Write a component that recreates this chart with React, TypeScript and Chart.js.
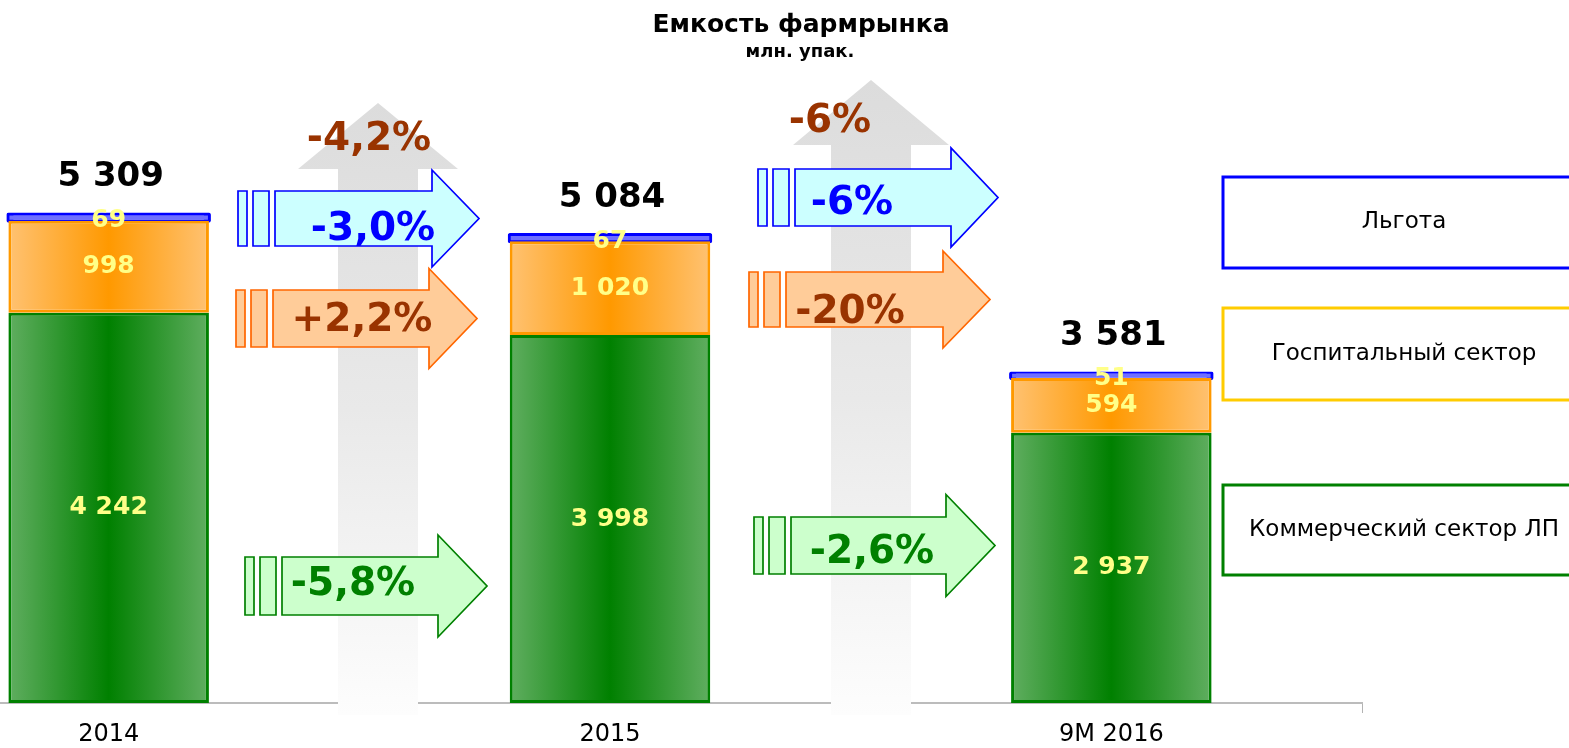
import React, { useEffect, useRef } from "react";
import { Chart, registerables } from "chart.js";

Chart.register(...registerables);

// ---- data ----
const categories = ["2014", "2015", "9M 2016"];
const commercial = [4242, 3998, 2937];
const hospital = [998, 1020, 594];
const benefit = [69, 67, 51];
const totals = [5309, 5084, 3581];
const seriesNames = ["Льгота", "Госпитальный сектор", "Коммерческий сектор ЛП"];
const totalChange = ["-4,2%", "-6%"];
const benefitChange = ["-3,0%", "-6%"];
const hospitalChange = ["+2,2%", "-20%"];
const commercialChange = ["-5,8%", "-2,6%"];
const titleText = "Емкость фармрынка";
const subtitleText = "млн. упак.";

// ---- layout (page pixels) ----
const PAGE_W = 1569;
const PAGE_H = 748;
const OFFSET = 142;
const CANVAS_W = PAGE_W + OFFSET;

const upArrows = [
  { cx: 378, tip: 103, headBase: 169, headHalf: 80, shaftHalf: 40, bottom: 715 },
  { cx: 871, tip: 80, headBase: 145, headHalf: 78, shaftHalf: 40, bottom: 715 },
];
const hArrowsLayout = [
  {
    blue: { x0: 238, yc: 218.5, bh: 27.5, hh: 48.5, hx: 432, tx: 479 },
    orange: { x0: 236, yc: 318.5, bh: 28.5, hh: 50, hx: 429, tx: 477 },
    green: { x0: 245, yc: 586, bh: 29, hh: 51, hx: 438, tx: 487 },
    tTotal: [369, 140], tBlue: [373, 230], tOrange: [362, 321], tGreen: [353, 585],
  },
  {
    blue: { x0: 758, yc: 197.5, bh: 28.5, hh: 49.5, hx: 951, tx: 998 },
    orange: { x0: 749, yc: 299.5, bh: 27.5, hh: 48.5, hx: 943, tx: 990 },
    green: { x0: 754, yc: 545.5, bh: 28.5, hh: 51, hx: 946, tx: 995 },
    tTotal: [830, 122], tBlue: [852, 204], tOrange: [850, 313], tGreen: [872, 553],
  },
];
const legendLayout = [
  { top: 177, bottom: 268, color: "#0000ff" },
  { top: 308, bottom: 400, color: "#ffcc00" },
  { top: 485, bottom: 575, color: "#008000" },
];

const BROWN = "#993300";
const BLUE = "#0000ff";
const GREEN = "#008000";
const FONT = "'DejaVu Sans', Verdana, sans-serif";

function hArrow(ctx: CanvasRenderingContext2D, a: any, fill: string, stroke: string) {
  const { x0, yc, bh, hh, hx, tx } = a;
  ctx.fillStyle = fill;
  ctx.strokeStyle = stroke;
  ctx.lineWidth = 1.7;
  ctx.lineJoin = "miter";
  ctx.beginPath();
  ctx.rect(x0, yc - bh, 9, 2 * bh);
  ctx.fill();
  ctx.stroke();
  ctx.beginPath();
  ctx.rect(x0 + 15, yc - bh, 16, 2 * bh);
  ctx.fill();
  ctx.stroke();
  ctx.beginPath();
  ctx.moveTo(x0 + 37, yc - bh);
  ctx.lineTo(hx, yc - bh);
  ctx.lineTo(hx, yc - hh);
  ctx.lineTo(tx, yc);
  ctx.lineTo(hx, yc + hh);
  ctx.lineTo(hx, yc + bh);
  ctx.lineTo(x0 + 37, yc + bh);
  ctx.closePath();
  ctx.fill();
  ctx.stroke();
}

function txt(ctx: CanvasRenderingContext2D, s: string, x: number, y: number, font: string, color: string) {
  ctx.font = font;
  ctx.fillStyle = color;
  ctx.textAlign = "center";
  ctx.textBaseline = "middle";
  ctx.fillText(s, x, y);
}

function fmt(v: number) {
  return v.toLocaleString("ru-RU").replace(/\s/g, " ");
}

const annotations = {
  id: "annotations",
  afterDatasetsDraw(chart: any) {
    const ctx: CanvasRenderingContext2D = chart.ctx;
    ctx.save();
    const segData = [commercial, hospital, benefit];
    for (let d = 0; d < 3; d++) {
      const meta = chart.getDatasetMeta(d);
      meta.data.forEach((el: any, i: number) => {
        const cy = (el.y + el.base) / 2 + (d === 2 ? 3 : 0);
        txt(ctx, fmt(segData[d][i]), el.x, cy, `bold 25px ${FONT}`, "#ffff88");
      });
    }
    const topMeta = chart.getDatasetMeta(2);
    topMeta.data.forEach((el: any, i: number) => {
      txt(ctx, fmt(totals[i]), el.x + 2, el.y - 37, `bold 34px ${FONT}`, "#000000");
    });

    ctx.translate(OFFSET, 0);
    upArrows.forEach((u) => {
      const g = ctx.createLinearGradient(0, u.tip, 0, u.bottom);
      g.addColorStop(0, "#dcdcdc");
      g.addColorStop(0.5, "#e9e9e9");
      g.addColorStop(1, "#fdfdfd");
      ctx.fillStyle = g;
      ctx.beginPath();
      ctx.moveTo(u.cx, u.tip);
      ctx.lineTo(u.cx + u.headHalf, u.headBase);
      ctx.lineTo(u.cx + u.shaftHalf, u.headBase);
      ctx.lineTo(u.cx + u.shaftHalf, u.bottom);
      ctx.lineTo(u.cx - u.shaftHalf, u.bottom);
      ctx.lineTo(u.cx - u.shaftHalf, u.headBase);
      ctx.lineTo(u.cx - u.headHalf, u.headBase);
      ctx.closePath();
      ctx.fill();
    });
    hArrowsLayout.forEach((L, i) => {
      hArrow(ctx, L.blue, "#ccffff", BLUE);
      hArrow(ctx, L.orange, "#ffcc99", "#ff6600");
      hArrow(ctx, L.green, "#ccffcc", GREEN);
      const f = `bold 39px ${FONT}`;
      txt(ctx, totalChange[i], L.tTotal[0], L.tTotal[1], f, BROWN);
      txt(ctx, benefitChange[i], L.tBlue[0], L.tBlue[1], f, BLUE);
      txt(ctx, hospitalChange[i], L.tOrange[0], L.tOrange[1], f, BROWN);
      txt(ctx, commercialChange[i], L.tGreen[0], L.tGreen[1], f, GREEN);
    });
    txt(ctx, titleText, 801, 25, `bold 25px ${FONT}`, "#000");
    txt(ctx, subtitleText, 800, 52, `bold 18px ${FONT}`, "#000");
    legendLayout.forEach((b, i) => {
      ctx.strokeStyle = b.color;
      ctx.lineWidth = 3;
      ctx.strokeRect(1223, b.top, 400, b.bottom - b.top);
      txt(ctx, seriesNames[i], 1404, (b.top + b.bottom) / 2, `23px ${FONT}`, "#000");
    });
    ctx.restore();
  },
};

function grad(edge: string, mid: string) {
  return (c: any) => {
    const chart = c.chart;
    const xs = chart.scales && chart.scales.x;
    if (!xs || c.dataIndex === undefined || !chart.chartArea) return mid;
    const cx = xs.getPixelForValue(c.dataIndex);
    const w = (xs.width / categories.length) * 0.4;
    const g = chart.ctx.createLinearGradient(cx - w / 2, 0, cx + w / 2, 0);
    g.addColorStop(0, edge);
    g.addColorStop(0.5, mid);
    g.addColorStop(1, edge);
    return g;
  };
}

export default function App() {
  const ref = useRef<HTMLCanvasElement>(null);
  useEffect(() => {
    const chart = new Chart(ref.current as HTMLCanvasElement, {
      type: "bar",
      data: {
        labels: categories,
        datasets: [
          {
            label: seriesNames[2],
            data: commercial,
            backgroundColor: grad("#60ae60", "#008000") as any,
            borderColor: "#008000",
            borderWidth: 3,
            borderSkipped: false,
          },
          {
            label: seriesNames[1],
            data: hospital,
            backgroundColor: grad("#ffc272", "#ff9900") as any,
            borderColor: "#ff9900",
            borderWidth: 3,
            borderSkipped: false,
          },
          {
            label: seriesNames[0],
            data: benefit,
            backgroundColor: "#6f6fff",
            borderColor: "#0000ff",
            borderWidth: 3,
            borderSkipped: false,
            borderRadius: 2,
            inflateAmount: 2,
          } as any,
        ],
      },
      options: {
        responsive: false,
        animation: false,
        devicePixelRatio: 1,
        layout: { padding: { left: 0, top: 0, bottom: 0, right: CANVAS_W - (OFFSET + 1362) } },
        datasets: { bar: { categoryPercentage: 1, barPercentage: 0.4 } },
        plugins: { legend: { display: false }, title: { display: false }, tooltip: { enabled: false } },
        scales: {
          x: {
            stacked: true,
            offset: true,
            grid: { display: true, drawOnChartArea: false, drawTicks: true, tickLength: 10, color: "#b3b3b3", offset: true },
            border: { display: true, color: "#bcbcbc", width: 2 },
            ticks: { color: "#000", font: { family: "DejaVu Sans", size: 24 }, padding: 7, maxRotation: 0, autoSkip: false },
            afterFit: (s: any) => {
              s.height = 45;
            },
          },
          y: { stacked: true, display: false, min: 0, max: 7640 },
        },
      },
      plugins: [annotations],
    });
    return () => chart.destroy();
  }, []);
  return (
    <div style={{ position: "absolute", left: 0, top: 0, width: PAGE_W, height: PAGE_H, overflow: "hidden", background: "#fff" }}>
      <canvas
        ref={ref}
        width={CANVAS_W}
        height={PAGE_H}
        style={{ position: "absolute", left: -OFFSET, top: 0, width: CANVAS_W, height: PAGE_H, display: "block" }}
      />
    </div>
  );
}
